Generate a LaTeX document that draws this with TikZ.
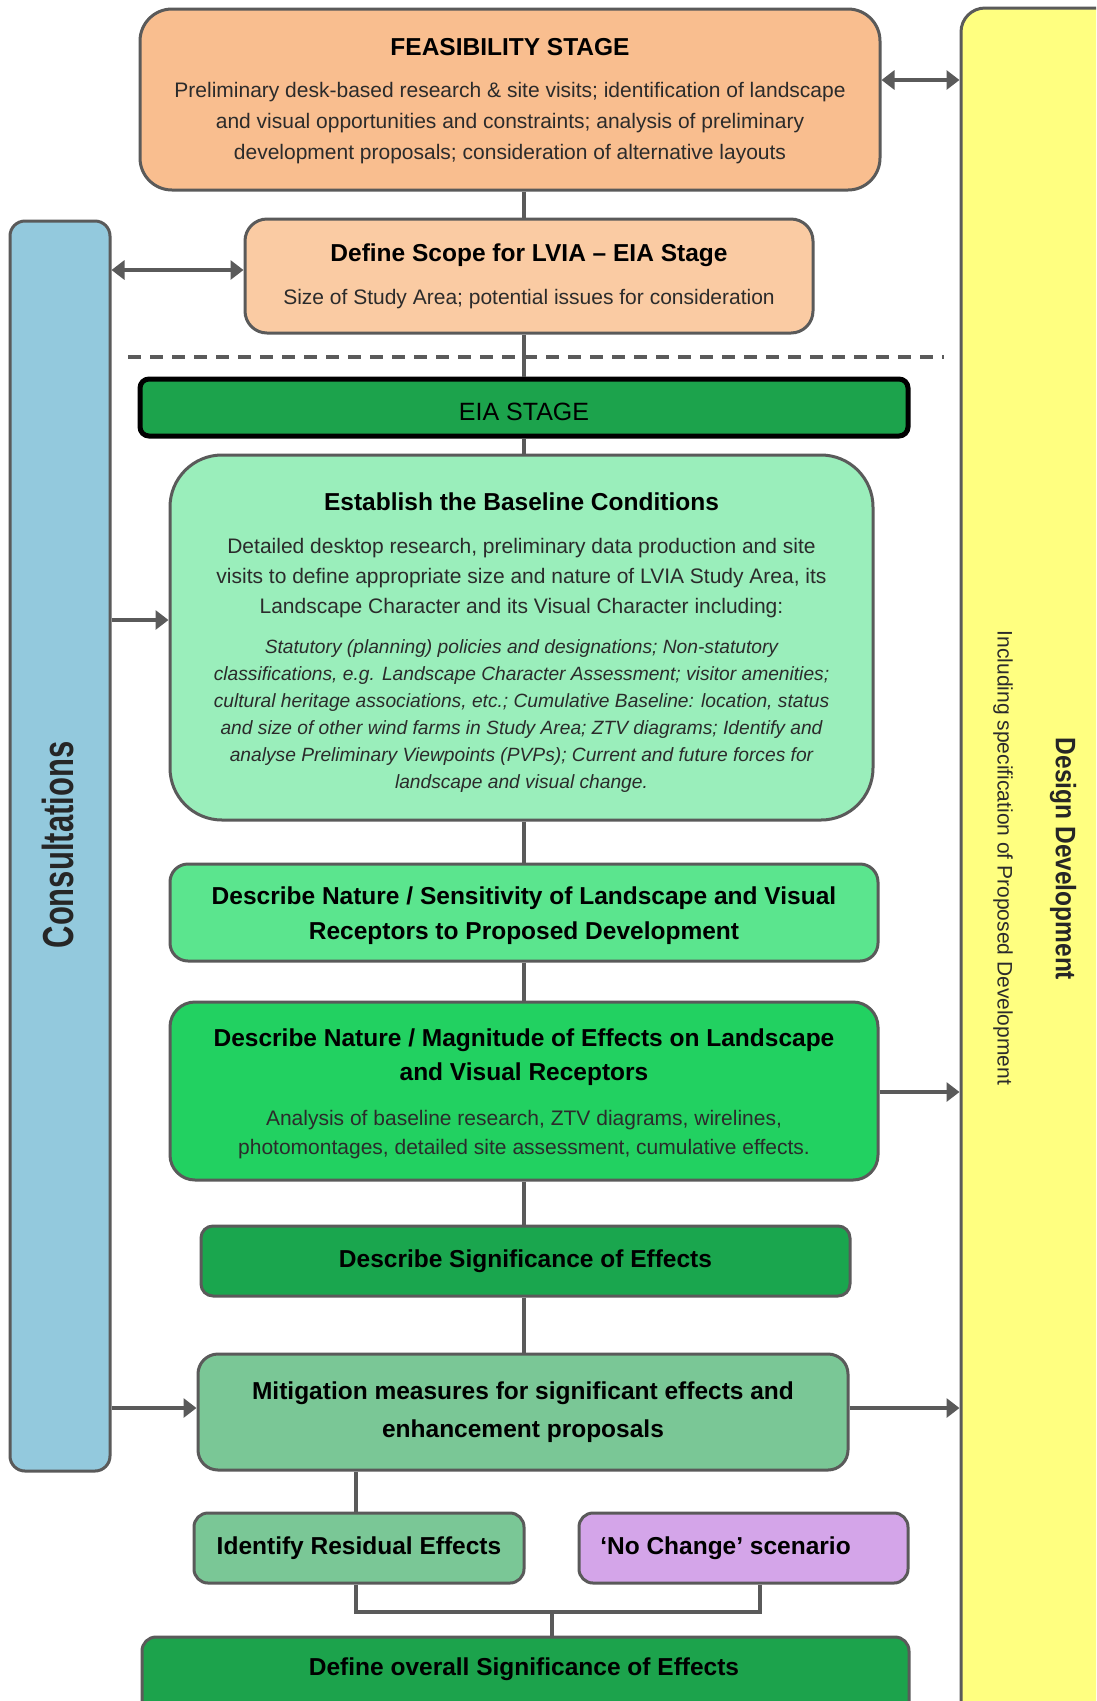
\documentclass[tikz,border=0pt]{standalone}
\usepackage{fontspec}
\setmainfont{Liberation Sans}
\usetikzlibrary{arrows.meta}
\definecolor{bordergray}{HTML}{5A5A5A}
\definecolor{bodytext}{HTML}{2B2B2B}
\definecolor{feasc}{HTML}{F9BE8F}
\definecolor{scopec}{HTML}{FACBA3}
\definecolor{bluec}{HTML}{93C9DD}
\definecolor{yellowc}{HTML}{FFFF80}
\definecolor{eiac}{HTML}{1CA34C}
\definecolor{basec}{HTML}{9AEEBB}
\definecolor{sensc}{HTML}{5BE58E}
\definecolor{magc}{HTML}{22D161}
\definecolor{sigc}{HTML}{1AA64E}
\definecolor{mitc}{HTML}{7AC796}
\definecolor{nochc}{HTML}{D4A5E9}
\newcommand\boxtitle[1]{{\color{black}\bfseries\fontsize{24.5}{31}\selectfont #1}}
\newcommand\itl[1]{{\itshape\fontsize{19.2}{27}\selectfont #1}}
\begin{document}
\begin{tikzpicture}[x=1pt,y=-1pt,
  box/.style={draw=bordergray, line width=3pt, rounded corners=18pt, align=center, inner sep=0pt, text=bodytext},
  conn/.style={draw=bordergray, line width=3.2pt},
  arr/.style={conn, -{Triangle[length=13pt,width=19pt]}},
  darr/.style={conn, {Triangle[length=13pt,width=19pt]}-{Triangle[length=13pt,width=19pt]}},
  bodyfont/.style={font=\fontsize{21}{31}\selectfont},
  ttlfont/.style={font=\bfseries\fontsize{24.5}{31}\selectfont, text=black}
]
\clip (0,0) rectangle (1096,1701);
\fill[white] (0,0) rectangle (1096,1701);

% side columns
\node[box, fill=yellowc, rounded corners=24pt, minimum width=179pt, minimum height=1752pt] (design) at (1050.5,884) {};
\node[box, fill=bluec, rounded corners=15pt, minimum width=100pt, minimum height=1250pt] (cons) at (60,846) {};
\node[rotate=90, font=\bfseries\fontsize{31}{31}\selectfont, text=black!85] (constxt) at (58,845) {\scalebox{1}[1.4]{Consultations}};
\node[rotate=-90, font=\bfseries\fontsize{24.5}{31}\selectfont, text=black!85] (designtxt) at (1063,859) {\scalebox{1}[1.15]{Design Development}};
\node[rotate=-90, font=\fontsize{21}{31}\selectfont, text=bodytext] (designsub) at (1003,858) {Including specification of Proposed Development};

% boxes
\node[box, fill=feasc, rounded corners=32pt, minimum width=740pt, minimum height=181pt, bodyfont] (feas) at (510,99.5)
 {\boxtitle{\rule{0pt}{21pt}FEASIBILITY STAGE}\\[11pt]
  Preliminary desk-based research \& site visits; identification of landscape\\
  and visual opportunities and constraints; analysis of preliminary\\
  development proposals; consideration of alternative layouts};

\node[box, fill=scopec, rounded corners=22pt, minimum width=568pt, minimum height=114pt, bodyfont] (scope) at (529,276)
 {\boxtitle{Define Scope for LVIA – EIA Stage}\\[12pt]
  Size of Study Area; potential issues for consideration};

\node[box, draw=black, line width=5pt, fill=eiac, rounded corners=9pt, minimum width=768pt, minimum height=57pt, font=\fontsize{25}{31}\selectfont, text=black, text height=26pt, text depth=0pt] (eia) at (524,407.5) {EIA STAGE};

\node[box, fill=basec, rounded corners=52pt, minimum width=703pt, minimum height=365pt, font=\fontsize{21}{30}\selectfont] (base) at (521.5,637.5)
 {\boxtitle{\rule{0pt}{28pt}Establish the Baseline Conditions}\\[13pt]
  Detailed desktop research, preliminary data production and site\\
  visits to define appropriate size and nature of LVIA Study Area, its\\
  Landscape Character and its Visual Character including:\\[10pt]
  \itl{Statutory (planning) policies and designations; Non-statutory}\\[-3pt]
  \itl{classifications, e.g. Landscape Character Assessment; visitor amenities;}\\[-3pt]
  \itl{cultural heritage associations, etc.; Cumulative Baseline: location, status}\\[-3pt]
  \itl{and size of other wind farms in Study Area; ZTV diagrams; Identify and}\\[-3pt]
  \itl{analyse Preliminary Viewpoints (PVPs); Current and future forces for}\\[-3pt]
  \itl{landscape and visual change.}};

\node[box, fill=sensc, rounded corners=18pt, minimum width=708pt, minimum height=97pt, font=\bfseries\fontsize{24.5}{35}\selectfont, text=black] (sens) at (524,912.5)
 {\rule{0pt}{24pt}Describe Nature / Sensitivity of Landscape and Visual\\
  Receptors to Proposed Development};

\node[box, fill=magc, rounded corners=25pt, minimum width=708pt, minimum height=178pt, font=\fontsize{21}{29}\selectfont] (mag) at (524,1091)
 {\boxtitle{\rule{0pt}{24pt}Describe Nature / Magnitude of Effects on Landscape}\\[5pt]
  \boxtitle{and Visual Receptors}\\[16pt]
  Analysis of baseline research, ZTV diagrams, wirelines,\\
  photomontages, detailed site assessment, cumulative effects.};

\node[box, fill=sigc, rounded corners=12pt, minimum width=649pt, minimum height=70pt, ttlfont] (sig) at (525.5,1261)
 {Describe Significance of Effects};

\node[box, fill=mitc, rounded corners=20pt, minimum width=650pt, minimum height=116pt, font=\bfseries\fontsize{24.5}{38}\selectfont, text=black] (mit) at (523,1412)
 {Mitigation measures for significant effects and\\
  enhancement proposals};

\node[box, fill=mitc, rounded corners=14pt, minimum width=330pt, minimum height=70pt, ttlfont] (res) at (359,1548)
 {Identify Residual Effects};

\node[box, fill=nochc, rounded corners=14pt, minimum width=329pt, minimum height=70pt, ttlfont] (noch) at (743.5,1548)
 {‘No Change’ scenario\hspace*{36pt}};

\node[box, fill=eiac, rounded corners=14pt, minimum width=767pt, minimum height=123pt] (overall) at (525.5,1698.5) {};
\node[ttlfont] (overalltxt) at (524,1669) {Define overall Significance of Effects};

% helper coordinates
\coordinate (trunk) at (524,0);
\coordinate (dl) at (128,357);
\coordinate (dr) at (944,357);
\coordinate (ya) at (0,80);
\coordinate (yb) at (0,270);
\coordinate (yc) at (0,620);
\coordinate (yd) at (0,1092);
\coordinate (ye) at (0,1408);
\coordinate (j1) at (356,1612);
\coordinate (j2) at (760,1612);
\coordinate (jm) at (552,1612);

% dashed separator
\draw[draw=bordergray, line width=4pt, dash pattern=on 13pt off 9pt] (dl) -- (dr);

% trunk connectors
\draw[conn] (feas.south -| trunk) -- (scope.north -| trunk);
\draw[conn] (scope.south -| trunk) -- (eia.north -| trunk);
\draw[conn] (eia.south -| trunk) -- (base.north -| trunk);
\draw[conn] (base.south -| trunk) -- (sens.north -| trunk);
\draw[conn] (sens.south -| trunk) -- (mag.north -| trunk);
\draw[conn] (mag.south -| trunk) -- (sig.north -| trunk);
\draw[conn] (sig.south -| trunk) -- (mit.north -| trunk);
\draw[conn] (mit.south -| j1) -- (res.north -| j1);
\draw[conn] (res.south -| j1) -- (j1) -- (j2) -- (noch.south -| j2);
\draw[conn] (jm) -- (overall.north -| jm);

% arrows
\draw[darr] (feas.east |- ya) -- (design.west |- ya);
\draw[darr] (cons.east |- yb) -- (scope.west |- yb);
\draw[arr] (cons.east |- yc) -- (base.west |- yc);
\draw[arr] (mag.east |- yd) -- (design.west |- yd);
\draw[arr] (cons.east |- ye) -- (mit.west |- ye);
\draw[arr] (mit.east |- ye) -- (design.west |- ye);
\end{tikzpicture}
\end{document}
